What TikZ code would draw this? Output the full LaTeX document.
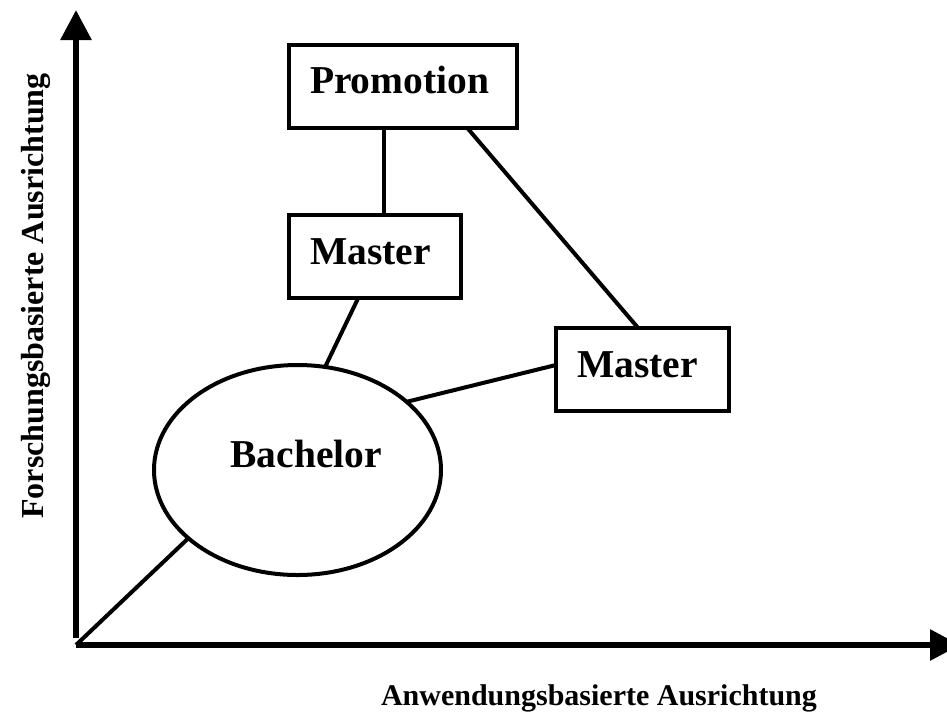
\documentclass[tikz,border=0pt]{standalone}
\usepackage{fontspec}
\setmainfont{Liberation Serif}
\usetikzlibrary{arrows.meta, shapes.geometric}

\tikzset{
  degbox/.style={draw, rectangle, line width=4pt, outer sep=0pt,
    align=left, inner xsep=21pt, inner ysep=19pt,
    text height=30pt, text depth=15pt,
    font=\bfseries\fontsize{39.5}{47}\selectfont},
  degoval/.style={draw, ellipse, line width=4pt, outer sep=0pt, inner sep=0pt,
    minimum width=287pt, minimum height=210pt,
    text width=169pt, align=right, text height=27pt, text depth=33pt,
    font=\bfseries\fontsize{39.5}{47}\selectfont},
  axis/.style={line width=6pt, -{Triangle[length=30pt, width=30pt]}},
  axislabel/.style={inner sep=0pt, font=\bfseries\fontsize{30}{36}\selectfont},
  link/.style={line width=4pt}
}

\begin{document}
\begin{tikzpicture}[x=1pt, y=-1pt]
\useasboundingbox (0,0) rectangle (947,713);

% axes
\coordinate (origin) at (76,645);
\coordinate (ytip) at (76,10);
\coordinate (xtip) at (960,645);
\draw[axis] ([yshift=7pt]origin) -- (ytip);
\draw[axis] (origin) -- (xtip);

\node[axislabel, anchor=base] (xlabel) at (599,705) {Anwendungsbasierte Ausrichtung};
\node[axislabel, rotate=90, anchor=base, font=\bfseries\fontsize{32}{38}\selectfont] (ylabel) at (43,296) {Forschungsbasierte Ausrichtung};

% degrees
\node[degbox, text width=186pt] (promotion) at (403,86) {Promotion};
\node[degbox, text width=130pt] (master) at (375,256.5) {Master};
\node[degbox, text width=131pt] (master2) at (642.5,369.5) {Master};
\node[degoval] (bachelor) at (297.5,470) {Bachelor};

\draw[link] ([xshift=9pt]master.north) -- ([xshift=9pt]master.north |- promotion.south);
\draw[link] (promotion.-33) -- (master2.96);
\draw[link] (master.-112) -- (bachelor.75);
\draw[link] (master2.177) -- (bachelor.32.6);
\draw[link] (origin) -- (bachelor.212);

\end{tikzpicture}
\end{document}
